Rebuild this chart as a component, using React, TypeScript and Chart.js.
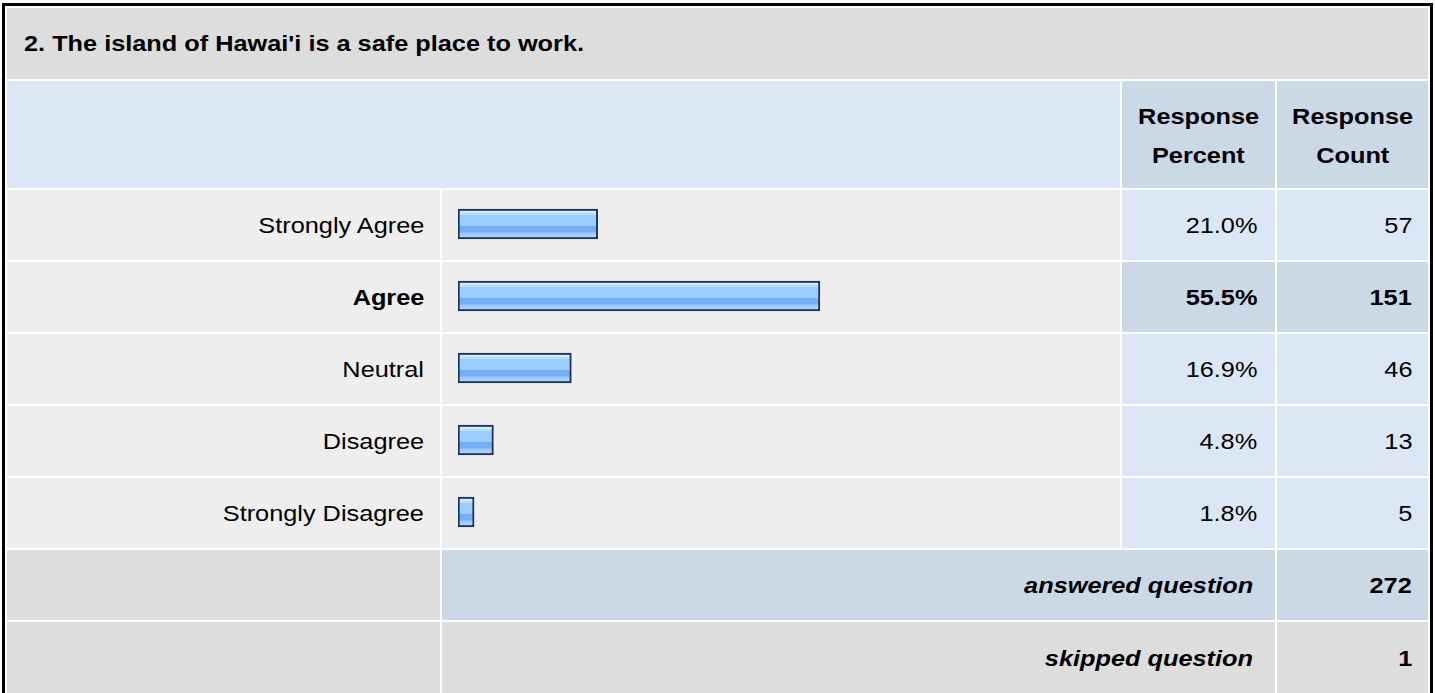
import React, { useEffect, useRef } from "react";
import { Chart, registerables } from "chart.js";

Chart.register(...registerables);

// ---------- data ----------
const title = "2. The island of Hawai'i is a safe place to work.";
const categories = ["Strongly Agree", "Agree", "Neutral", "Disagree", "Strongly Disagree"];
const percents = [21.0, 55.5, 16.9, 4.8, 1.8];
const percentLabels = ["21.0%", "55.5%", "16.9%", "4.8%", "1.8%"];
const counts = [57, 151, 46, 13, 5];
const highlighted = [false, true, false, false, false];
const headerPercent = ["Response", "Percent"];
const headerCount = ["Response", "Count"];
const answeredLabel = "answered question";
const answeredCount = 272;
const skippedLabel = "skipped question";
const skippedCount = 1;

// ---------- layout / style ----------
const FONT = '"Liberation Sans", Arial, Helvetica, sans-serif';
const SX = 1.15;
const FS = 22;
const C_TITLE = "#dddddd";
const C_LIGHT = "#dce7f5";
const C_DARK = "#cbd8e6";
const C_ROW = "#eeeeee";

const X_LEFT = 7;
const X_LABEL_END = 440;
const X_BAR = 442;
const X_BAR_END = 1120;
const X_PCT = 1122;
const X_PCT_END = 1275;
const X_CNT = 1277;
const X_RIGHT = 1428;

const Y_TITLE: [number, number] = [8, 79];
const Y_HEAD: [number, number] = [81, 188];
const ROW_TOP = 190;
const ROW_H = 70;
const ROW_PITCH = 72;

function Txt({
  text,
  align,
  bold,
  italic,
  size = FS,
}: {
  text: string | number;
  align: "left" | "right" | "center";
  bold?: boolean;
  italic?: boolean;
  size?: number;
}) {
  return (
    <span
      style={{
        display: "inline-block",
        whiteSpace: "nowrap",
        transform: `scaleX(${SX})`,
        transformOrigin: align === "left" ? "left center" : align === "right" ? "right center" : "center center",
        fontWeight: bold ? 700 : 400,
        fontStyle: italic ? "italic" : "normal",
        fontSize: size,
        fontFamily: FONT,
        color: "#000",
      }}
    >
      {text}
    </span>
  );
}

function Cell({
  x0,
  x1,
  y,
  bg,
  children,
  align = "right",
  pad = 16,
  dy = 2,
}: {
  x0: number;
  x1: number;
  y: [number, number];
  bg: string;
  children?: React.ReactNode;
  align?: "left" | "right" | "center";
  pad?: number;
  dy?: number;
}) {
  return (
    <div
      style={{
        position: "absolute",
        left: x0,
        top: y[0],
        width: x1 - x0,
        height: y[1] - y[0],
        background: bg,
        display: "flex",
        alignItems: "center",
        justifyContent: align === "left" ? "flex-start" : align === "right" ? "flex-end" : "center",
        paddingLeft: align === "left" ? pad : 0,
        paddingRight: align === "right" ? pad : 0,
        paddingTop: dy,
        boxSizing: "border-box",
      }}
    >
      {children}
    </div>
  );
}

function makePattern(): CanvasPattern | string {
  const c = document.createElement("canvas");
  c.width = 4;
  c.height = ROW_PITCH;
  const g = c.getContext("2d");
  if (!g) return "#9ccdff";
  g.fillStyle = "#9ccdff";
  g.fillRect(0, 0, 4, ROW_PITCH);
  const stripes: [number, number, string][] = [
    [23, 25, "#d4eaff"],
    [25, 27, "#b6dcff"],
    [27, 38, "#9ccdff"],
    [38, 44, "#75acf3"],
    [44, 46, "#8dc2fb"],
    [46, 49, "#a6d3ff"],
  ];
  for (const [a, b, col] of stripes) {
    g.fillStyle = col;
    g.fillRect(0, a, 4, b - a);
  }
  const p = g.createPattern(c, "repeat");
  return p || "#9ccdff";
}

function BarChart() {
  const ref = useRef<HTMLCanvasElement | null>(null);
  useEffect(() => {
    if (!ref.current) return;
    const chart = new Chart(ref.current, {
      type: "bar",
      data: {
        labels: categories,
        datasets: [
          {
            data: percents,
            backgroundColor: makePattern() as any,
            borderColor: "#1b3358",
            borderWidth: 2,
            borderSkipped: false,
            barThickness: 30,
            base: -0.7,
          } as any,
        ],
      },
      options: {
        indexAxis: "y",
        animation: false,
        responsive: false,
        maintainAspectRatio: false,
        events: [],
        layout: { padding: { left: 16, right: 13.5, top: 0, bottom: 0 } },
        plugins: {
          legend: { display: false },
          tooltip: { enabled: false },
          title: { display: false },
        },
        scales: {
          x: { display: false, min: -0.7, max: 100 },
          y: { display: false },
        },
      },
    });
    return () => chart.destroy();
  }, []);
  return (
    <canvas
      ref={ref}
      width={X_BAR_END - X_BAR}
      height={ROW_PITCH * categories.length}
      style={{
        position: "absolute",
        left: X_BAR,
        top: ROW_TOP - 2,
        width: X_BAR_END - X_BAR,
        height: ROW_PITCH * categories.length,
        display: "block",
      }}
    />
  );
}

export default function App() {
  const rowY = (i: number): [number, number] => [ROW_TOP + i * ROW_PITCH, ROW_TOP + i * ROW_PITCH + ROW_H];
  const n = categories.length;
  const yAns = rowY(n);
  const ySkip: [number, number] = [rowY(n + 1)[0], rowY(n + 1)[0] + ROW_H + 2];
  return (
    <div
      style={{
        position: "fixed",
        left: 0,
        top: 0,
        width: 1435,
        height: 693,
        overflow: "hidden",
        background: "#fff",
        fontFamily: FONT,
      }}
    >
      <div
        style={{
          position: "absolute",
          left: 2,
          top: 3,
          width: 1431,
          height: 760,
          border: "3px solid #000",
          boxSizing: "border-box",
          background: "#fff",
        }}
      />
      {/* title */}
      <Cell x0={X_LEFT} x1={X_RIGHT} y={Y_TITLE} bg={C_TITLE} align="left" pad={17} dy={0}>
        <Txt text={title} align="left" bold />
      </Cell>
      {/* header */}
      <Cell x0={X_LEFT} x1={X_BAR_END} y={Y_HEAD} bg={C_LIGHT} />
      <Cell x0={X_PCT} x1={X_PCT_END} y={Y_HEAD} bg={C_DARK} align="center" dy={4}>
        <div style={{ textAlign: "center", lineHeight: "37px" }}>
          <div><Txt text={headerPercent[0]} align="center" bold /></div>
          <div><Txt text={headerPercent[1]} align="center" bold /></div>
        </div>
      </Cell>
      <Cell x0={X_CNT} x1={X_RIGHT} y={Y_HEAD} bg={C_DARK} align="center" dy={4}>
        <div style={{ textAlign: "center", lineHeight: "37px" }}>
          <div><Txt text={headerCount[0]} align="center" bold /></div>
          <div><Txt text={headerCount[1]} align="center" bold /></div>
        </div>
      </Cell>
      {/* data rows */}
      {categories.map((c, i) => {
        const y = rowY(i);
        const hl = highlighted[i];
        return (
          <React.Fragment key={c}>
            <Cell x0={X_LEFT} x1={X_LABEL_END} y={y} bg={C_ROW} pad={16}>
              <Txt text={c} align="right" bold={hl} />
            </Cell>
            <Cell x0={X_BAR} x1={X_BAR_END} y={y} bg={C_ROW} />
            <Cell x0={X_PCT} x1={X_PCT_END} y={y} bg={hl ? C_DARK : C_LIGHT} pad={18}>
              <Txt text={percentLabels[i]} align="right" bold={hl} />
            </Cell>
            <Cell x0={X_CNT} x1={X_RIGHT} y={y} bg={hl ? C_DARK : C_LIGHT} pad={16}>
              <Txt text={counts[i]} align="right" bold={hl} />
            </Cell>
          </React.Fragment>
        );
      })}
      {/* answered */}
      <Cell x0={X_LEFT} x1={X_LABEL_END} y={yAns} bg={C_TITLE} />
      <Cell x0={X_BAR} x1={X_PCT_END} y={yAns} bg={C_DARK} pad={22}>
        <Txt text={answeredLabel} align="right" bold italic />
      </Cell>
      <Cell x0={X_CNT} x1={X_RIGHT} y={yAns} bg={C_DARK} pad={16}>
        <Txt text={answeredCount} align="right" bold />
      </Cell>
      {/* skipped */}
      <Cell x0={X_LEFT} x1={X_LABEL_END} y={ySkip} bg={C_TITLE} />
      <Cell x0={X_BAR} x1={X_PCT_END} y={ySkip} bg={C_TITLE} pad={22}>
        <Txt text={skippedLabel} align="right" bold italic />
      </Cell>
      <Cell x0={X_CNT} x1={X_RIGHT} y={ySkip} bg={C_TITLE} pad={16}>
        <Txt text={skippedCount} align="right" bold />
      </Cell>
      <BarChart />
    </div>
  );
}
